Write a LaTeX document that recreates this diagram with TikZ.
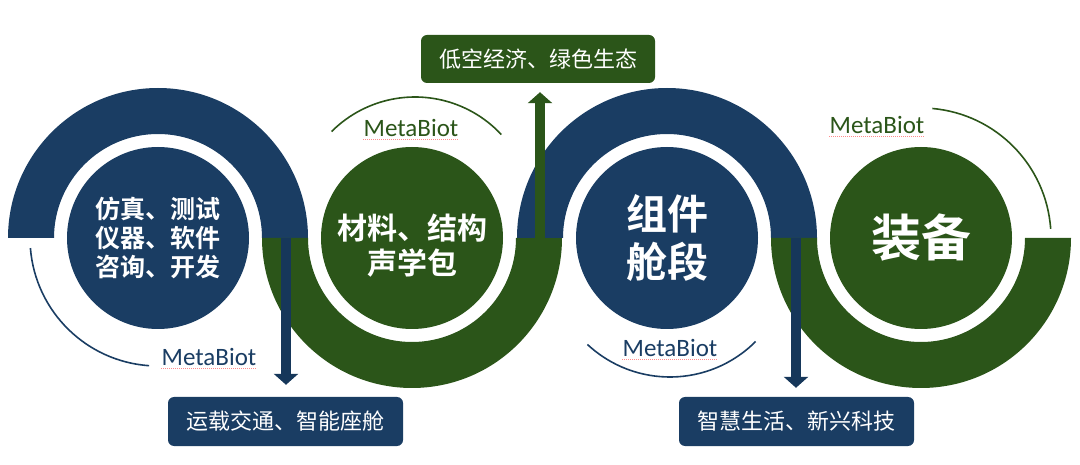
\documentclass[tikz,border=0pt]{standalone}
\usepackage{fontspec}
\setmainfont{Noto Sans CJK SC}[BoldFont={Noto Sans CJK SC Bold}]
\newfontfamily\tagfont{Carlito}
\usepackage{tikz}
\usetikzlibrary{arrows.meta, positioning, calc}
\definecolor{mbblue}{HTML}{1A3D63}
\definecolor{mbshaft}{HTML}{16375A}
\definecolor{mbgreen}{HTML}{2B5519}

\begin{document}
\begin{tikzpicture}[x=1pt, y=1pt,
  hub/.style={circle, fill=#1, minimum size=182pt, inner sep=0pt,
              align=center, text=white},
  thin/.style={draw=#1, line width=1.6pt},
  tag/.style={font=\tagfont\fontsize{25}{25}\selectfont, text=#1, inner sep=0pt},
  squiggle/.style={draw=red!45, line width=0.6pt, dash pattern=on 1pt off 1pt},
  outlet/.style={rectangle, rounded corners=6pt, fill=#1, text=white,
                 minimum width=235pt, minimum height=49pt,
                 font=\fontsize{22}{26}\selectfont},
  flow/.style={line width=10pt, color=#1, -{Triangle[width=24pt, length=11pt]}}
]
  \useasboundingbox (0,0) rectangle (1080,464);

  % ── bands ───────────────────────────────────────────────────────────────
  \fill[mbblue]  (8,226)   arc[start angle=180, end angle=0,   radius=150pt]
                 -- (262,226) arc[start angle=0,   end angle=180, radius=104pt] -- cycle;
  \fill[mbgreen] (262,226) arc[start angle=180, end angle=360, radius=150pt]
                 -- (516,226) arc[start angle=360, end angle=180, radius=104pt] -- cycle;
  \fill[mbblue]  (517,226) arc[start angle=180, end angle=0,   radius=150pt]
                 -- (771,226) arc[start angle=0,   end angle=180, radius=104pt] -- cycle;
  \fill[mbgreen] (771,226) arc[start angle=180, end angle=360, radius=150pt]
                 -- (1025,226) arc[start angle=360, end angle=180, radius=104pt] -- cycle;

  % ── hubs ────────────────────────────────────────────────────────────────
  \node[hub=mbblue,  font=\bfseries\fontsize{25}{29}\selectfont] (c1) at (158,226)
       {仿真、测试\\仪器、软件\\咨询、开发};
  \node[hub=mbgreen] (c2) at (412,226) {};
  \node[align=center, text=white, font=\bfseries\fontsize{30}{35}\selectfont]
       (c2txt) at ([yshift=-8pt]c2.center) {材料、结构\\声学包};
  \node[hub=mbblue,  font=\bfseries\fontsize{41}{48}\selectfont] (c3) at (667,226)
       {组件\\舱段};
  \node[hub=mbgreen, font=\bfseries\fontsize{50}{58}\selectfont] (c4) at (921,226)
       {装备};

  % ── thin arcs and tags ──────────────────────────────────────────────────
  \draw[thin=mbblue]  ([shift={(184.5:128pt)}]c1.center)
                      arc[start angle=184.5, end angle=266, radius=128pt];
  \draw[thin=mbgreen] ([shift={(135:118pt)}]$(c2.center)+(3,23)$)
                      arc[start angle=135, end angle=43, radius=118pt];
  \draw[thin=mbblue]  ([shift={(227:121pt)}]$(c3.center)+(3,-18)$)
                      arc[start angle=227, end angle=315, radius=121pt];
  \draw[thin=mbgreen] ([shift={(85:130pt)}]c4.center)
                      arc[start angle=85, end angle=4, radius=130pt];

  \node[tag=mbblue]  (m1) at (209,107) {MetaBiot};
  \node[tag=mbgreen] (m2) at (411,336) {MetaBiot};
  \node[tag=mbblue]  (m3) at (670,116) {MetaBiot};
  \node[tag=mbgreen] (m4) at (877,339) {MetaBiot};
  \foreach \m in {m1,m2,m3,m4}
    \draw[squiggle] ([yshift=-2pt]\m.south west) -- ([yshift=-2pt]\m.south east);

  % ── outlets ─────────────────────────────────────────────────────────────
  \node[outlet=mbblue]  (b1) at (285.5,42.5) {运载交通、智能座舱};
  \node[outlet=mbblue]  (b2) at (796.5,42.5) {智慧生活、新兴科技};
  \node[outlet=mbgreen, minimum width=234pt, minimum height=48pt] (t1) at (538,405)
       {低空经济、绿色生态};

  % ── flow arrows ─────────────────────────────────────────────────────────
  \coordinate (s1) at (286,226);
  \coordinate (s2) at (540,226);
  \coordinate (s3) at (796,226);
  \draw[flow=mbshaft, shorten >=12pt] (s1) -- (s1 |- b1.north);  % to transport
  \draw[flow=mbgreen, shorten >=9pt]  (s2) -- (s2 |- t1.south);  % to low-altitude
  \draw[flow=mbshaft, shorten >=9pt]  (s3) -- (s3 |- b2.north);  % to smart living
\end{tikzpicture}
\end{document}
